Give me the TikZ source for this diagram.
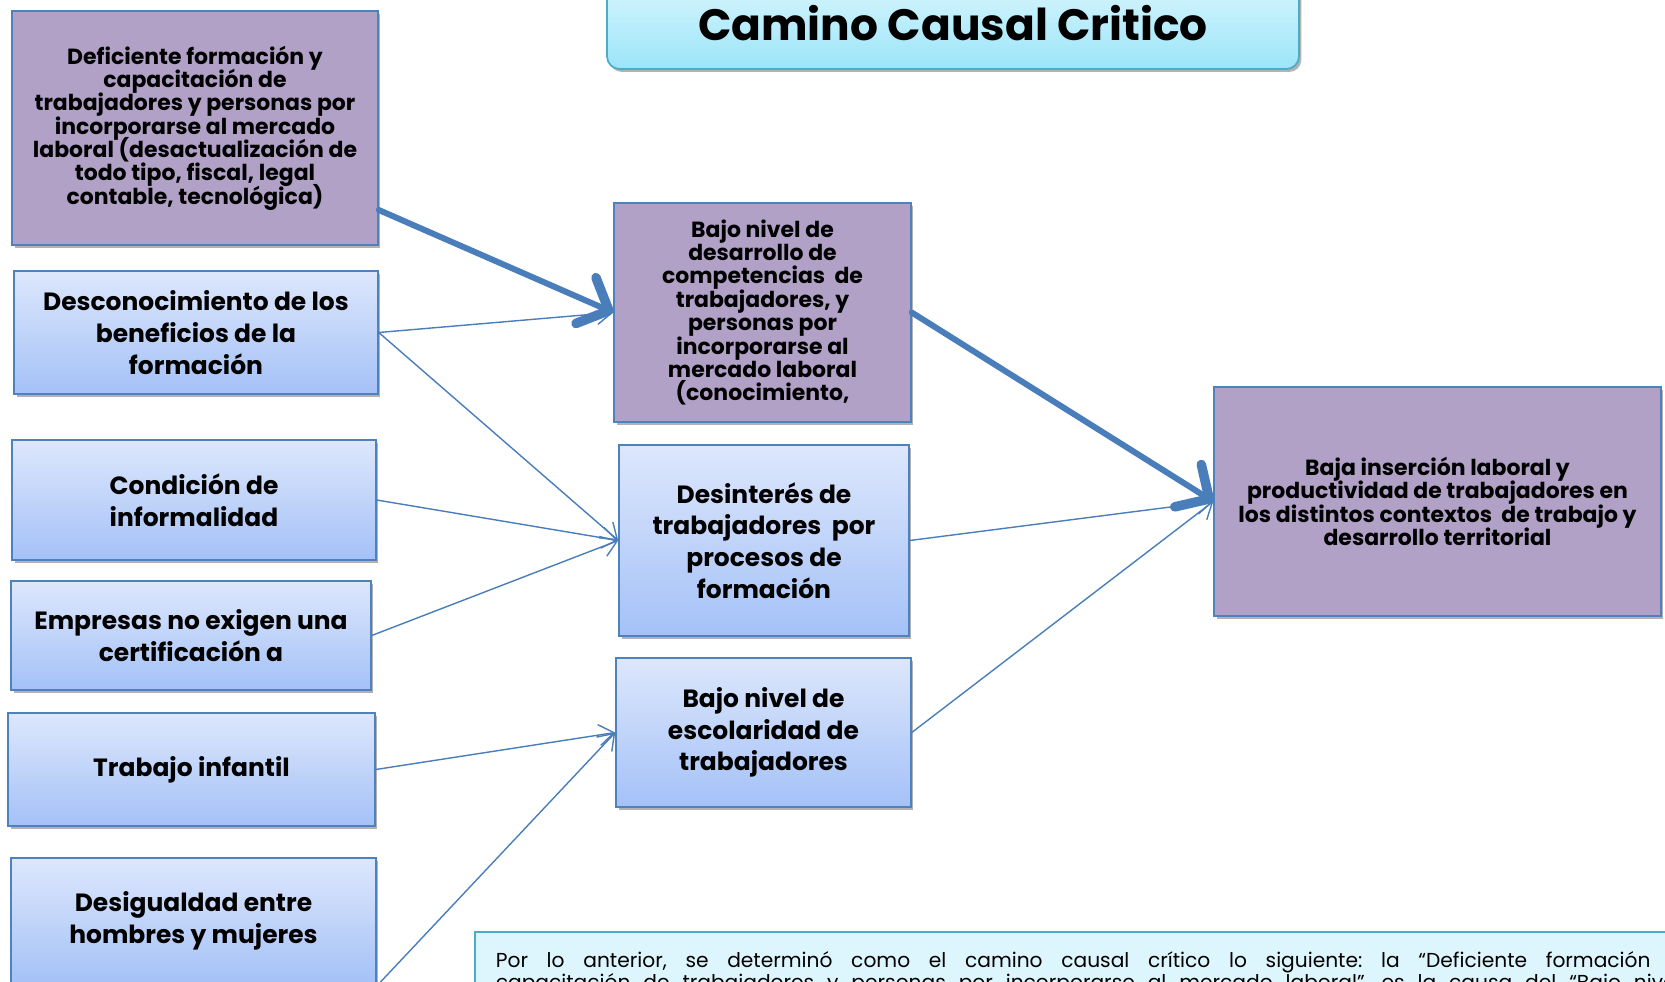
\documentclass[tikz,border=0pt]{standalone}
\usepackage{fontspec}
\setmainfont{Poppins}
\usetikzlibrary{arrows.meta,shadows}
\definecolor{boxline}{RGB}{79,129,189}
\definecolor{linkblue}{RGB}{74,126,187}
\definecolor{lilac}{RGB}{178,161,199}
\definecolor{bluetop}{RGB}{221,231,252}
\definecolor{bluebot}{RGB}{164,193,247}
\definecolor{titletop}{RGB}{218,246,253}
\definecolor{titlebot}{RGB}{155,229,249}
\definecolor{titleline}{RGB}{75,172,198}
\definecolor{notefill}{RGB}{221,245,252}
\lineskiplimit=-10pt
\begin{document}
\begin{tikzpicture}[x=0.02cm,y=-0.02cm,
  every node/.style={inner sep=0pt},
  boxshadow/.style={drop shadow={shadow xshift=0.05cm,shadow yshift=-0.06cm,opacity=0.3,fill=black}},
  cause/.style={draw=boxline,line width=0.9pt,top color=bluetop,bottom color=bluebot,boxshadow,
    align=center,font=\bfseries\fontsize{14.2}{18}\selectfont},
  keybox/.style={draw=boxline,line width=0.9pt,fill=lilac,boxshadow,
    align=center,font=\bfseries\fontsize{12.5}{13.3}\selectfont},
  link/.style={draw=linkblue,line width=0.8pt,-{Straight Barb[length=0.3cm,width=0.42cm]}},
  mainlink/.style={draw=linkblue,line width=3.4pt,line cap=round,
    -{Straight Barb[length=0.5cm,width=1.0cm,line width=0pt 1.6,round]}}
]
\useasboundingbox (0,0) rectangle (1665,982);

\node[draw=titleline,line width=1pt,rounded corners=0.25cm,top color=titletop,bottom color=titlebot,boxshadow,
  minimum width=13.84cm,minimum height=1.84cm,font=\bfseries\fontsize{25}{30}\selectfont] (titulo) at (953,23) {Camino Causal Critico};

\node[keybox,minimum width=7.32cm,minimum height=4.68cm] (formacion) at (195,128)
  {Deficiente formación y\\capacitación de\\trabajadores y personas por\\incorporarse al mercado\\laboral (desactualización de\\todo tipo, fiscal, legal\\contable, tecnológica)};
\node[cause,minimum width=7.28cm,minimum height=2.46cm] (desconocimiento) at (196,332.5)
  {Desconocimiento de los\\beneficios de la\\formación};
\node[cause,minimum width=7.28cm,minimum height=2.40cm] (informalidad) at (194,500)
  {Condición de\\informalidad};
\node[cause,minimum width=7.20cm,minimum height=2.18cm] (certificacion) at (191,635.5)
  {Empresas no exigen una\\certificación a};
\node[cause,minimum width=7.34cm,minimum height=2.26cm] (infantil) at (191.5,769.5)
  {Trabajo infantil};
\node[cause,minimum width=7.30cm,minimum height=2.52cm] (desigualdad) at (193.5,921)
  {Desigualdad entre\\hombres y mujeres};

\node[keybox,minimum width=5.94cm,minimum height=4.38cm] (competencias) at (762.5,312.5)
  {Bajo nivel de\\desarrollo de\\competencias\ \ de\\trabajadores, y\\personas por\\incorporarse al\\mercado laboral\\(conocimiento,};
\node[cause,minimum width=5.80cm,minimum height=3.82cm] (desinteres) at (764,540.5)
  {Desinterés de\\trabajadores\ \ por\\procesos de\\formación};
\node[cause,minimum width=5.90cm,minimum height=2.98cm] (escolaridad) at (763.5,732.5)
  {Bajo nivel de\\escolaridad de\\trabajadores};

\node[keybox,minimum width=8.94cm,minimum height=4.58cm] (insercion) at (1437.5,501.5)
  {Baja inserción laboral y\\productividad de trabajadores en\\los distintos contextos\ \ de trabajo y\\desarrollo territorial};

\node[anchor=north west,draw=titleline,line width=1pt,fill=notefill,boxshadow,align=left,
  inner xsep=0.42cm,inner ysep=0.4cm,font=\fontsize{11.5}{12.5}\selectfont\frenchspacing] (nota) at (474,931)
  {\makebox[23.7cm][s]{Por lo anterior, se determinó como el camino causal crítico lo siguiente: la “Deficiente formación y}\\
   \makebox[23.7cm][s]{capacitación de trabajadores y personas por incorporarse al mercado laboral”, es la causa del “Bajo nivel}};

\coordinate (salida) at ([yshift=-1.3cm]desigualdad.east);
\draw[mainlink] ([yshift=-1.64cm]formacion.east) -- (competencias.west);
\draw[link] (desconocimiento.east) -- (competencias.west);
\draw[link] (desconocimiento.east) -- (desinteres.west);
\draw[link] (informalidad.east) -- (desinteres.west);
\draw[link] (certificacion.east) -- (desinteres.west);
\draw[link] (infantil.east) -- (escolaridad.west);
\draw[link] (salida) -- (escolaridad.west);
\draw[mainlink] (competencias.east) -- (insercion.west);
\draw[link] (desinteres.east) -- (insercion.west);
\draw[link] (escolaridad.east) -- (insercion.west);
\end{tikzpicture}
\end{document}
